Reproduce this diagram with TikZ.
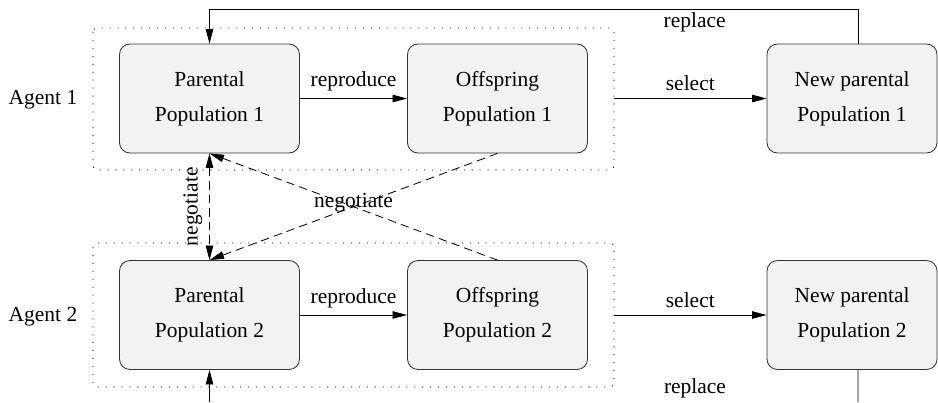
\documentclass[tikz,border=0pt]{standalone}
\usepackage{fontspec}
\setmainfont{Liberation Serif}
\usetikzlibrary{arrows.meta}

\begin{document}
\begin{tikzpicture}[x=0.48pt, y=-0.48pt]
    \tikzstyle{every node}=[align = center, font=\fontsize{10.3}{16.8}\selectfont]
    \tikzstyle{pop} = [draw=black!80, fill=black!5, rounded corners=5pt, minimum width=86.4pt, minimum height=52.3pt]
    \tikzstyle{agent} = [dash pattern=on 0.5pt off 3.3pt, rounded corners=2pt]
    \tikzstyle{flow} = [-{Triangle[length=7pt,width=3.6pt]}]
    \tikzstyle{nego} = [dash pattern=on 4pt off 2.5pt]
    \useasboundingbox (0,0) rectangle (938,402);
    % agents
    \draw[agent] (93,28) rectangle (614,170);
    \draw[agent] (93,243) rectangle (614,387);
    \node (a1) at (43,100) {Agent 1};
    \node (a2) at (43,317) {Agent 2};
    % populations
    \node[pop] (p1) at (209.5,98.5) {Parental \\ Population 1};
    \node[pop] (o1) at (497.5,98.5) {Offspring \\ Population 1};
    \node[pop, minimum width=81.6pt] (n1) at (852,98.5) {New parental \\ Population 1};
    \node[pop] (p2) at (209.5,315) {Parental \\ Population 2};
    \node[pop] (o2) at (497.5,315) {Offspring \\ Population 2};
    \node[pop, minimum width=81.6pt] (n2) at (852,315) {New parental \\ Population 2};
    \coordinate (g1) at (614,98.5);
    \coordinate (g2) at (614,315);
    \coordinate (r1) at (209.5,9);
    \coordinate (b1) at (858,402);
    \coordinate (b2) at (209.5,402);
    % flows
    \draw[flow] (p1) -- node[above] {reproduce} (o1);
    \draw[flow] (p2) -- node[above] {reproduce} (o2);
    \draw[flow] (g1) -- node[above] {select} (n1);
    \draw[flow] (g2) -- node[above] {select} (n2);
    \draw[flow] ([xshift=2.9pt]n1.north) |- node[below, pos=0.626, inner sep=1.5pt] {replace} (r1) -- (p1.north);
    \draw ([xshift=2.9pt]n2.south) -- (b1);
    \draw[flow] (b2) -- (p2.south);
    \node (rl) at (695,388) {replace};
    % negotiation
    \draw[nego, {Triangle[length=7pt,width=3.6pt]}-{Triangle[length=7pt,width=3.6pt]}] (p1.south) -- node[midway, rotate=90, above] {negotiate} (p2.north);
    \draw[nego, flow] (o1.south) -- (p2.north);
    \draw[nego, flow] (o2.north) -- node[pos=0.5, yshift=2pt] {negotiate} (p1.south);
\end{tikzpicture}
\end{document}
